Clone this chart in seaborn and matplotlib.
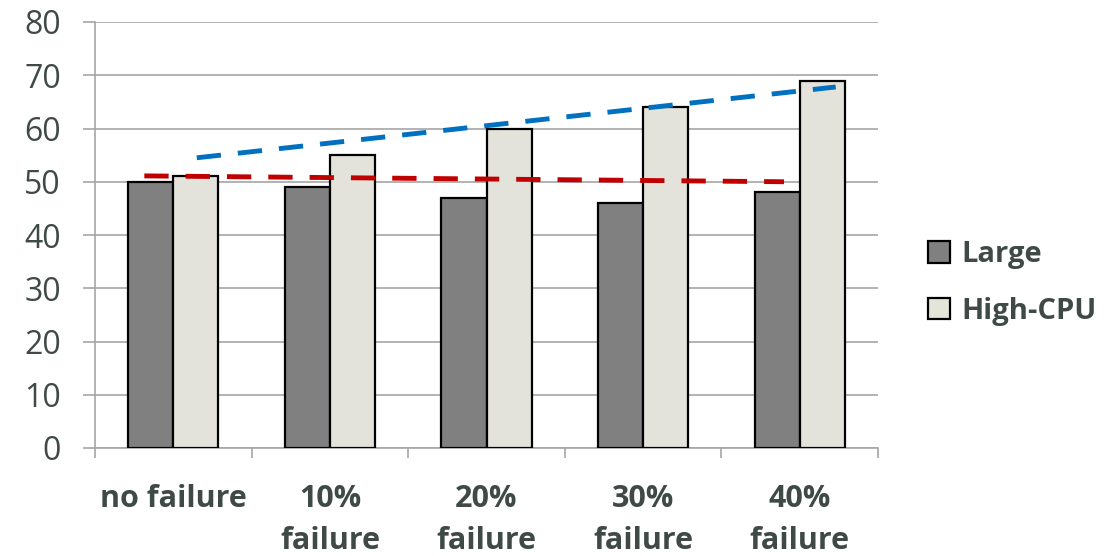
import matplotlib
matplotlib.use("Agg")
import matplotlib.pyplot as plt
import seaborn as sns
import pandas as pd
from matplotlib.patches import Patch

categories = ["no failure", "10%\nfailure", "20%\nfailure", "30%\nfailure", "40%\nfailure"]
large = [50, 49, 47, 46, 48]
high_cpu = [51, 55, 60, 64, 69]
series_names = ["Large", "High-CPU"]

# trend line endpoints (category position, value)
red_trend_x = [-0.185, 3.9]
red_trend_y = [51.1, 50.0]
blue_trend_x = [0.15, 4.23]
blue_trend_y = [54.5, 67.8]

df = pd.DataFrame({
    "category": categories * 2,
    "value": large + high_cpu,
    "series": [series_names[0]] * len(categories) + [series_names[1]] * len(categories),
})

sns.set_style("white")
plt.rcParams["font.family"] = ["Open Sans", "DejaVu Sans"]
text_color = "#3f4a47"

fig = plt.figure(figsize=(11.17, 5.56), dpi=100)
ax = fig.add_axes([95 / 1117, 1 - 448 / 556, (878 - 95) / 1117, (448 - 22) / 556])

colors = {"Large": "#808080", "High-CPU": "#e4e5d9"}
sns.barplot(data=df, x="category", y="value", hue="series", palette=colors,
            width=0.575, gap=0, edgecolor="black", linewidth=1.6,
            ax=ax, legend=False, zorder=3)

ax.plot(red_trend_x, red_trend_y, color="#c00000", lw=3.5, dashes=(5, 3.5), zorder=4)
ax.plot(blue_trend_x, blue_trend_y, color="#0070c0", lw=3.5, dashes=(5, 3.5), zorder=4)

ax.set_xlim(-0.5, 4.5)
ax.set_ylim(0, 80)
ax.set_yticks(range(0, 81, 10))
ax.yaxis.grid(True, color="#a6a6a6", lw=1.2, zorder=0)
ax.set_axisbelow(True)
ax.set_xlabel("")
ax.set_ylabel("")

for s in ["top", "right"]:
    ax.spines[s].set_visible(False)
for s in ["left", "bottom"]:
    ax.spines[s].set_color("#a6a6a6")
    ax.spines[s].set_linewidth(1.2)

# y ticks
ax.tick_params(axis="y", length=8.6, width=1.2, color="#a6a6a6", labelsize=23,
               labelcolor=text_color, pad=16, left=True)
# x: tick marks at category boundaries, labels at centers
ax.set_xticks([i - 0.5 for i in range(len(categories) + 1)], minor=False)
ax.set_xticklabels([""] * (len(categories) + 1))
ax.tick_params(axis="x", which="major", length=7.2, width=1.2, color="#a6a6a6", bottom=True)
ax.set_xticks(range(len(categories)), minor=True)
ax.set_xticklabels(categories, minor=True, fontsize=22, fontweight="bold",
                   color=text_color, linespacing=1.5)
ax.tick_params(axis="x", which="minor", length=0, pad=26)

handles = [Patch(facecolor=colors[n], edgecolor="black", linewidth=1.6, label=n) for n in series_names]
leg = fig.legend(handles=handles, loc="center left", bbox_to_anchor=(902 / 1117, 1 - 283 / 556),
                 frameon=False, fontsize=21, handlelength=0.75, handleheight=0.75,
                 handletextpad=0.4, labelspacing=0.95)
for t in leg.get_texts():
    t.set_fontweight("bold")
    t.set_color(text_color)

fig.savefig("out.png", dpi=100)
